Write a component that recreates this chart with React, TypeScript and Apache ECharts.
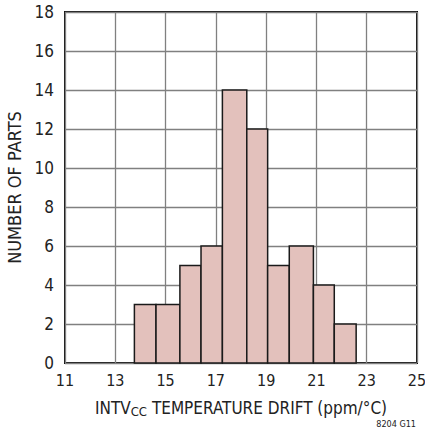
import React, { useEffect, useRef } from "react";
import * as echarts from "echarts";

// histogram bins: [start, end] in ppm/°C, count
const binStarts = [13.76, 14.62, 15.57, 16.41, 17.26, 18.23, 19.06, 19.92, 20.88, 21.71];
const binEnds = [14.62, 15.57, 16.41, 17.26, 18.23, 19.06, 19.92, 20.88, 21.71, 22.58];
const counts = [3, 3, 5, 6, 14, 12, 5, 6, 4, 2];
const xMin = 11;
const xMax = 25;
const yMax = 18;

const FONT = "'Liberation Sans Narrow', 'DejaVu Sans Condensed', 'Roboto Condensed', sans-serif";

export default function App() {
  const ref = useRef<HTMLDivElement>(null);
  useEffect(() => {
    if (!ref.current) return;
    const chart = echarts.init(ref.current, null, { renderer: "svg" });
    const data = counts.map((c, i) => [binStarts[i] - xMin, binEnds[i] - xMin, c]);
    chart.setOption({
      animation: false,
      grid: {
        left: 65, right: 8, top: 12, bottom: 72,
        show: true, borderColor: "#111", borderWidth: 2,
        outerBoundsMode: "none", containLabel: false,
      },
      xAxis: {
        type: "value",
        min: 0,
        max: xMax - xMin,
        interval: 2,
        axisLine: { show: false },
        axisTick: { show: false },
        axisLabel: {
          formatter: (v: number) => String(v + xMin),
          color: "#222", fontSize: 16, fontFamily: FONT, margin: 9,
        },
        splitLine: { show: true, lineStyle: { color: "#808080", width: 1.3 } },
        name: "{a|INTV}{b|CC}{a| TEMPERATURE DRIFT (ppm/°C)}",
        nameLocation: "middle",
        nameGap: 34,
        nameTextStyle: {
          rich: {
            a: { fontSize: 17, fontFamily: FONT, color: "#222" },
            b: { fontSize: 13, fontFamily: FONT, color: "#222", padding: [8, 0, 0, 0] },
          },
        },
      },
      yAxis: {
        type: "value",
        min: 0,
        max: yMax,
        interval: 2,
        axisLine: { show: false },
        axisTick: { show: false },
        axisLabel: { color: "#222", fontSize: 17, fontFamily: FONT, margin: 11 },
        splitLine: { show: true, lineStyle: { color: "#808080", width: 1.3 } },
        name: "NUMBER OF PARTS",
        nameLocation: "middle",
        nameGap: 38,
        nameTextStyle: { fontSize: 18, fontFamily: FONT, color: "#222" },
      },
      graphic: [
        {
          type: "text", right: 9, top: 419,
          style: { text: "8204 G11", fontSize: 9, fontFamily: FONT, fill: "#222" },
        },
      ],
      series: [
        {
          type: "custom",
          data,
          z: 5,
          renderItem: (params: any, api: any) => {
            const p0 = api.coord([api.value(0), 0]);
            const p1 = api.coord([api.value(1), api.value(2)]);
            return {
              type: "rect",
              shape: { x: p0[0], y: p1[1], width: p1[0] - p0[0], height: p0[1] - p1[1] },
              style: { fill: "#e3c1bc", stroke: "#1a1a1a", lineWidth: 1.5 },
            };
          },
        },
      ],
    });
    return () => chart.dispose();
  }, []);
  return <div ref={ref} style={{ width: 425, height: 435, position: "absolute", left: 0, top: 0 }} />;
}
